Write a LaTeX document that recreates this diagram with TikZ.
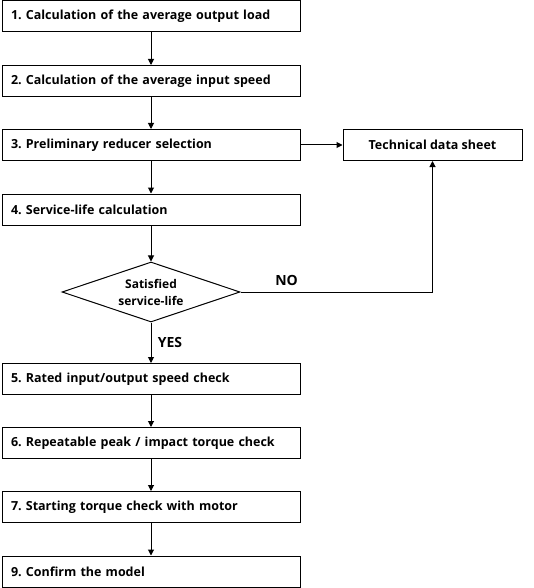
\documentclass[tikz,border=0pt]{standalone}
\usepackage{fontspec}
\setmainfont{Open Sans}
\frenchspacing
\usetikzlibrary{shapes.geometric,arrows.meta}
\begin{document}
\begin{tikzpicture}[x=1pt,y=-1pt,
  stepbox/.style={draw,line width=1pt,minimum width=298pt,minimum height=31pt,text width=280pt,align=left,inner xsep=9pt,font=\fontsize{12.5}{14}\selectfont\bfseries},
  sheetbox/.style={draw,line width=1pt,minimum width=179pt,minimum height=31pt,align=center,font=\fontsize{12.5}{14}\selectfont\bfseries},
  decbox/.style={draw,diamond,line width=1pt,minimum width=178pt,minimum height=60pt,inner sep=0pt,aspect=3,align=center,font=\fontsize{12}{17}\selectfont\bfseries},
  lbl/.style={font=\fontsize{14}{16}\selectfont\bfseries},
  arr/.style={line width=1pt,-{Triangle[length=6pt,width=6pt]}}]
\useasboundingbox (0,0) rectangle (533,588);
\node[stepbox] (s1) at (151,16.5) {1. Calculation of the average output load};
\node[stepbox] (s2) at (151,81) {2. Calculation of the average input speed};
\node[stepbox] (s3) at (151,145) {3. Preliminary reducer selection};
\node[stepbox] (s4) at (151,209.5) {4. Service-life calculation};
\node[decbox] (d) at (151,292) {Satisfied\\service-life};
\node[stepbox] (s5) at (151,379) {5. Rated input/output speed check};
\node[stepbox] (s6) at (151,443) {6. Repeatable peak / impact torque check};
\node[stepbox] (s7) at (151,507) {7. Starting torque check with motor};
\node[stepbox] (s9) at (151,571.5) {9. Confirm the model};
\node[sheetbox] (t) at (432.5,145) {Technical data sheet};
\draw[arr] (s1) -- (s2);
\draw[arr] (s2) -- (s3);
\draw[arr] (s3) -- (s4);
\draw[arr] (s4) -- (d);
\draw[arr] (d) -- node[lbl,right,xshift=3pt] {YES} (s5);
\draw[arr] (s5) -- (s6);
\draw[arr] (s6) -- (s7);
\draw[arr] (s7) -- (s9);
\draw[arr] (s3) -- (t);
\draw[arr] (d.east) -- node[lbl,above,pos=0.24,yshift=3pt] {NO} (d.east -| t.south) -- (t.south);
\end{tikzpicture}
\end{document}
